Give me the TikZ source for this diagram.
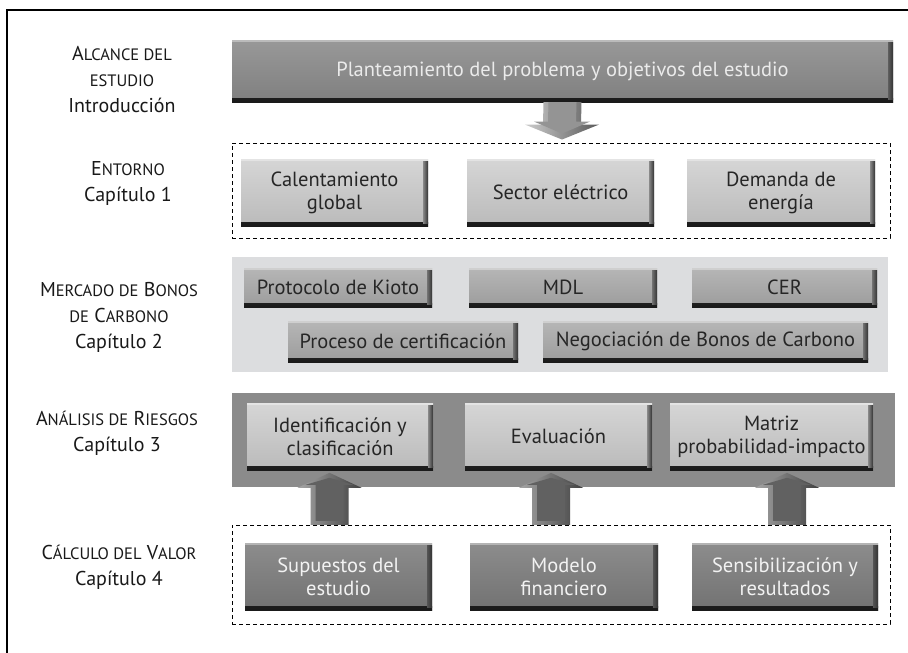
\documentclass[tikz,border=0pt]{standalone}
\usepackage{fontspec}
\setmainfont{PT Sans}
\usetikzlibrary{calc}
\definecolor{lightbox}{HTML}{C4C4C4}
\definecolor{midbox}{HTML}{A4A4A4}
\definecolor{darkbox}{HTML}{787878}
\definecolor{topbar}{HTML}{868686}
\definecolor{panelL}{HTML}{DCDDDF}
\definecolor{panelD}{HTML}{8B8B8B}
\newcommand\sca[1]{{\fontsize{16.5}{18}\selectfont #1}}
\tikzset{
 bevel/.style={path picture={
   \shade[top color=#1!50!black, bottom color=black!90] ([yshift=4pt]path picture bounding box.south west) rectangle (path picture bounding box.south east);
   \shade[left color=#1!70!black, right color=black!80] ([xshift=-5pt,yshift=-2pt]path picture bounding box.north east) rectangle ([yshift=3pt]path picture bounding box.south east);
   \fill[white, opacity=0.35] (path picture bounding box.north west) rectangle ([yshift=-1.5pt]path picture bounding box.north east);
 }},
 sz/.style 2 args={minimum width=#1pt, minimum height=#2pt},
 boxbase/.style={inner sep=0pt, align=center, font=\fontsize{20.5}{23}\selectfont},
 lbox/.style={boxbase, top color=lightbox!70!white, bottom color=lightbox!95!black, bevel=lightbox, text=black!85},
 mbox/.style={boxbase, top color=midbox!80!white, bottom color=midbox!95!black, bevel=midbox, text=black!85},
 dbox/.style={boxbase, top color=darkbox!85!white, bottom color=darkbox!95!black, bevel=darkbox, text=white!95!black},
 tbar/.style={boxbase, top color=topbar!85!white, bottom color=topbar!95!black, bevel=topbar, text=white!92!black},
 dashbox/.style={draw=black, line width=0.9pt, dash pattern=on 4pt off 3pt, inner sep=0pt},
 lab/.style={align=center, font=\fontsize{20}{26}\selectfont, text=black!90, inner sep=0pt},
 uparrowout/.style={left color=black!35, right color=black!75},
 uparrowin/.style={fill=black!62},
 dnarrowout/.style={left color=black!20, right color=black!65},
 dnarrowin/.style={fill=black!42},
}
\newcommand\upblock[2]{%
 \shade[uparrowout] ($(#1)+(-19,0)$) -- ($(#2)+(-19,15)$) -- ($(#2)+(-32,15)$) -- (#2) -- ($(#2)+(32,15)$) -- ($(#2)+(19,15)$) -- ($(#1)+(19,0)$) -- cycle;
 \fill[uparrowin] ($(#1)+(-14,-4)$) -- ($(#2)+(-14,12)$) -- ($(#2)+(-24,12)$) -- ($(#2)+(0,5)$) -- ($(#2)+(24,12)$) -- ($(#2)+(14,12)$) -- ($(#1)+(14,-4)$) -- cycle;}
\newcommand\dnblock[2]{%
 \shade[dnarrowout] ($(#1)+(-19,0)$) -- ($(#2)+(-19,-15)$) -- ($(#2)+(-37,-15)$) -- (#2) -- ($(#2)+(37,-15)$) -- ($(#2)+(19,-15)$) -- ($(#1)+(19,0)$) -- cycle;
 \fill[dnarrowin] ($(#1)+(-14,0)$) -- ($(#2)+(-14,-18)$) -- ($(#2)+(-28,-18)$) -- ($(#2)+(0,-6)$) -- ($(#2)+(28,-18)$) -- ($(#2)+(14,-18)$) -- ($(#1)+(14,0)$) -- cycle;}
\begin{document}
\begin{tikzpicture}[x=1pt,y=-1pt]
\useasboundingbox[fill=white] (0,0) rectangle (908,653);
% frame
\draw[line width=1.1pt] (7,653) -- (7,10) -- (908,10);
% left labels
\node[lab] (l0) at (122,80) {A\sca{LCANCE DEL}\\\sca{ESTUDIO}\\Introducción};
\node[lab] (l1) at (128,183) {E\sca{NTORNO}\\Capítulo 1};
\node[lab] (l2) at (119,317) {M\sca{ERCADO DE} B\sca{ONOS}\\\sca{DE} C\sca{ARBONO}\\Capítulo 2};
\node[lab] (l3) at (117,433) {A\sca{NÁLISIS DE} R\sca{IESGOS}\\Capítulo 3};
\node[lab] (l4) at (119,567) {C\sca{ÁLCULO DEL} V\sca{ALOR}\\Capítulo 4};
% top bar
\node[tbar, sz={661}{62}] (intro) at (562.5,71) {Planteamiento del problema y objetivos del estudio};
% entorno
\node[dashbox, sz={658}{95}] (env) at (561,190.5) {};
\node[lbox, sz={187}{67}] (cal) at (334.5,192.5) {Calentamiento\\global};
\node[lbox, sz={187}{67}] (sec) at (560.5,192.5) {Sector eléctrico};
\node[lbox, sz={188}{67}] (dem) at (781,192.5) {Demanda de\\energía};
% mercado
\node[fill=panelL, inner sep=0pt, sz={656}{115}] (mer) at (560,314.5) {};
\node[mbox, sz={188}{39}] (kio) at (338,287.5) {Protocolo de Kioto};
\node[mbox, sz={188}{39}] (mdl) at (563,287.5) {MDL};
\node[mbox, sz={185}{39}] (cer) at (784.5,287.5) {CER};
\node[mbox, sz={230}{41}] (pro) at (403,341.5) {Proceso de certificación};
\node[mbox, sz={325}{41}] (neg) at (705.5,341.5) {Negociación de Bonos de Carbono};
% analisis
\node[fill=panelD, inner sep=0pt, sz={663}{94}] (ana) at (563.5,440) {};
\node[lbox, sz={186}{67}] (ide) at (340,436.5) {Identificación y\\clasificación};
\node[lbox, sz={187}{67}] (eva) at (558.5,436.5) {Evaluación};
\node[lbox, sz={203}{67}] (mat) at (771.5,436.5) {Matriz\\probabilidad-impacto};
% calculo
\node[dashbox, sz={658}{99}] (calc) at (561,574.5) {};
\node[dbox, sz={187}{67}] (sup) at (338.5,576.5) {Supuestos del\\estudio};
\node[dbox, sz={188}{67}] (mod) at (564,576.5) {Modelo\\financiero};
\node[dbox, sz={186}{67}] (sen) at (785,576.5) {Sensibilización y\\resultados};
% arrows
\coordinate (d0s) at (intro.south);
\coordinate (d0e) at ($(env.north)+(1,-3)$);
\dnblock{d0s}{d0e}
\coordinate (u1s) at ($(sup.north)+(-9,-18)$);
\coordinate (u1e) at ($(sup.north)+(-9,-70)$);
\coordinate (u2s) at ($(mod.north)+(-13,-18)$);
\coordinate (u2e) at ($(mod.north)+(-13,-70)$);
\coordinate (u3s) at ($(sen.north)+(2,-18)$);
\coordinate (u3e) at ($(sen.north)+(2,-70)$);
\upblock{u1s}{u1e}
\upblock{u2s}{u2e}
\upblock{u3s}{u3e}
\end{tikzpicture}
\end{document}
